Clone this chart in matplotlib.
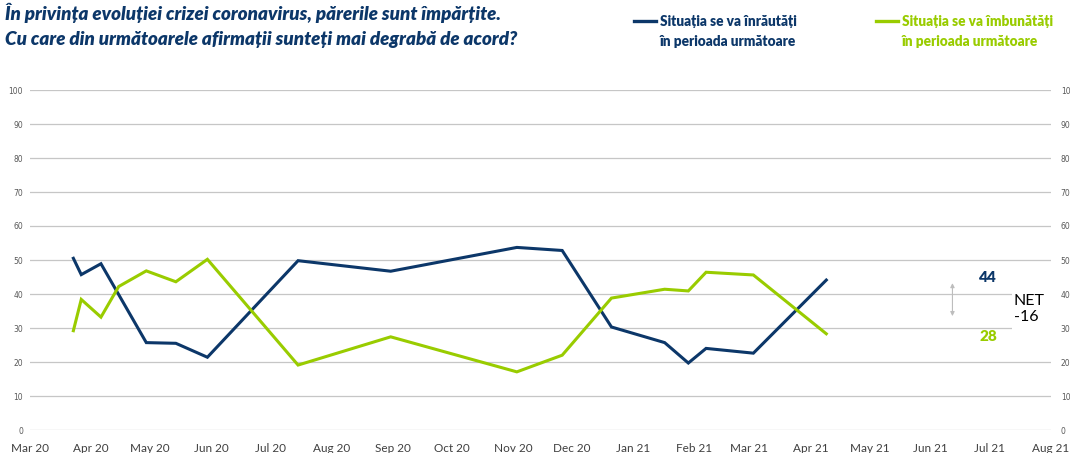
import matplotlib
matplotlib.use("Agg")
import matplotlib.pyplot as plt
import matplotlib.dates as mdates
import pandas as pd
from matplotlib.patches import Rectangle

# Data
worse_dates = ["2020-03-23", "2020-03-27", "2020-04-06", "2020-04-29", "2020-05-14",
               "2020-05-30", "2020-07-15", "2020-08-31", "2020-11-03", "2020-11-26",
               "2020-12-21", "2021-01-17", "2021-01-29", "2021-02-07", "2021-03-03",
               "2021-04-09"]
worse = [50.5, 45.7, 48.9, 25.7, 25.5, 21.4, 49.8, 46.7, 53.7, 52.8,
         30.3, 25.7, 19.7, 24.0, 22.6, 44.1]

better_dates = ["2020-03-23", "2020-03-27", "2020-04-06", "2020-04-15", "2020-04-29",
                "2020-05-14", "2020-05-30", "2020-07-15", "2020-08-31", "2020-11-03",
                "2020-11-26", "2020-12-21", "2021-01-17", "2021-01-29", "2021-02-07",
                "2021-03-03", "2021-04-09"]
better = [29.2, 38.4, 33.2, 42.2, 46.8, 43.6, 50.2, 19.1, 27.4, 17.1,
          22.0, 38.8, 41.4, 40.9, 46.4, 45.6, 28.3]

worse_label = ["Situația se va înrăutăți", "în perioada următoare"]
better_label = ["Situația se va îmbunătăți", "în perioada următoare"]
title = ["În privința evoluției crizei coronavirus, părerile sunt împărțite.",
         "Cu care din următoarele afirmații sunteți mai degrabă de acord?"]

blue = "#0c3769"
green = "#99cc00"
font = ["Lato", "DejaVu Sans"]

W, H = 1070, 453
fig = plt.figure(figsize=(W / 100, H / 100), dpi=100)
ax = fig.add_axes([30 / W, 1 - 430 / H, 1021 / W, 340 / H])

ax.plot(pd.to_datetime(worse_dates), worse, color=blue, lw=2.2, solid_joinstyle="miter")
ax.plot(pd.to_datetime(better_dates), better, color=green, lw=2.2, solid_joinstyle="miter")

ax.set_ylim(0, 100)
ax.set_yticks(range(0, 101, 10))
ax.set_xlim(pd.Timestamp("2020-03-01"), pd.Timestamp("2021-08-01"))
ax.xaxis.set_major_locator(mdates.MonthLocator())
ax.xaxis.set_major_formatter(mdates.DateFormatter("%b %y"))
ax.grid(axis="y", color="#c6c6c6", lw=0.9)
ax.set_axisbelow(True)
for s in ax.spines.values():
    s.set_visible(False)
ax.tick_params(axis="x", length=0, pad=9, labelsize=8.5, labelcolor="#404040")
ax.tick_params(axis="y", length=0, pad=5, labelsize=5.5, labelcolor="#595959")
for lab in ax.get_xticklabels():
    lab.set_family(font)

ax2 = ax.twinx()
ax2.set_ylim(0, 100)
ax2.set_yticks(range(0, 101, 10))
for s in ax2.spines.values():
    s.set_visible(False)
ax2.tick_params(axis="y", length=0, pad=7, labelsize=5.5, labelcolor="#595959")

# white box behind NET label
ax.add_patch(Rectangle((0.962, 0.26), 0.04, 0.22, transform=ax.transAxes,
                       facecolor="white", edgecolor="none", zorder=2))

# end labels and net
ax.text(pd.Timestamp("2021-06-30"), 45, "44", color=blue, fontsize=11,
        fontweight="heavy", ha="center", va="center", family=font, zorder=3)
ax.text(pd.Timestamp("2021-06-30"), 27.4, "28", color=green, fontsize=11,
        fontweight="heavy", ha="center", va="center", family=font, zorder=3)
ax.text(pd.Timestamp("2021-07-13"), 35.7, "NET\n-16", color="black", fontsize=11.5,
        ha="left", va="center", family=font, linespacing=1.2, zorder=3)
ax.annotate("", xy=(pd.Timestamp("2021-06-12"), 43.2), xytext=(pd.Timestamp("2021-06-12"), 33.5),
            arrowprops=dict(arrowstyle="<|-|>", color="#bdbdbd", lw=0.8,
                            mutation_scale=6, shrinkA=0, shrinkB=0))

# title
fig.text(5 / W, 1 - 13 / H, title[0], color=blue, fontsize=13.5, fontweight="heavy",
         fontstyle="italic", ha="left", va="center", family=font)
fig.text(5 / W, 1 - 40 / H, title[1], color=blue, fontsize=13.5, fontweight="heavy",
         fontstyle="italic", ha="left", va="center", family=font)

# legend
for x0, col, lab in [(634, blue, worse_label), (876, green, better_label)]:
    fig.add_artist(plt.Line2D([x0 / W, (x0 + 22) / W], [1 - 21 / H, 1 - 21 / H], color=col, lw=2.4))
    fig.text((x0 + 26) / W, 1 - 22 / H, lab[0], color=col, fontsize=9.8, fontweight="heavy",
             ha="left", va="center", family=font)
    fig.text((x0 + 26) / W, 1 - 42 / H, lab[1], color=col, fontsize=9.8, fontweight="heavy",
             ha="left", va="center", family=font)

fig.savefig("out.png", dpi=100, facecolor="white")
